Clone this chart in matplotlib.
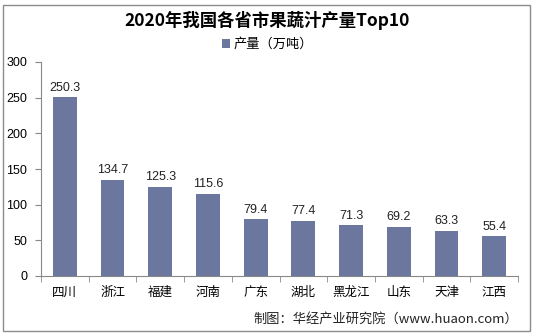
import matplotlib
matplotlib.use("Agg")
import matplotlib.pyplot as plt
from matplotlib.patches import Rectangle

plt.rcParams['font.family'] = ['Noto Sans CJK SC', 'DejaVu Sans']

categories = ["四川", "浙江", "福建", "河南", "广东", "湖北", "黑龙江", "山东", "天津", "江西"]
values = [250.3, 134.7, 125.3, 115.6, 79.4, 77.4, 71.3, 69.2, 63.3, 55.4]
yticks = [0, 50, 100, 150, 200, 250, 300]

W, H = 535, 336
fig = plt.figure(figsize=(W/100, H/100), dpi=100)
fig.patches.append(Rectangle((3/W, 5/H), 527/W, 326/H, transform=fig.transFigure,
                             fill=False, edgecolor="#8c8c8c", linewidth=1.0))

ax = fig.add_axes([41/W, 1 - 276/H, (518-41)/W, (276-62)/H])
color = "#6B779E"
x = list(range(len(categories)))
ax.bar(x, values, width=0.5, color=color, label="产量（万吨）")
for xi, v in zip(x, values):
    ax.text(xi, v + 5, f"{v}", ha="center", va="bottom", fontsize=9, color="#222222",
            family=["Liberation Sans"])

ax.set_xlim(-0.5, len(categories) - 0.5)
ax.set_ylim(0, 300)
ax.set_yticks(yticks)
ax.set_yticklabels([str(t) for t in yticks], fontsize=9, family=["Liberation Sans"])
ax.set_xticks(x)
ax.set_xticklabels(categories, fontsize=9)
ax.tick_params(axis="x", length=0, pad=7)
ax.set_xticks([i + 0.5 for i in range(-1, len(categories))], minor=True)
ax.tick_params(axis="x", which="minor", length=4, color="#888888", direction="out")
ax.tick_params(axis="y", length=4, color="#888888", direction="out", pad=6)
for s in ["top", "right"]:
    ax.spines[s].set_visible(False)
ax.spines["left"].set_color("#888888")
ax.spines["bottom"].set_color("#888888")

fig.text(0.5, 1 - 20/H, "2020年我国各省市果蔬汁产量Top10", ha="center", va="center",
         fontsize=12.5, fontweight="bold", family=["Noto Sans CJK SC", "DejaVu Sans"])
ax.legend(loc="upper center", bbox_to_anchor=(0.5, 1 - 38/H), bbox_transform=fig.transFigure,
          frameon=False, fontsize=9.5, handlelength=0.6, handleheight=0.6, handletextpad=0.3,
          borderaxespad=0, borderpad=0)
fig.text(518/W, 1 - 319/H, "制图：华经产业研究院（www.huaon.com）", ha="right", va="center",
         fontsize=9.5, color="#222222")

fig.savefig("out.png", dpi=100)
